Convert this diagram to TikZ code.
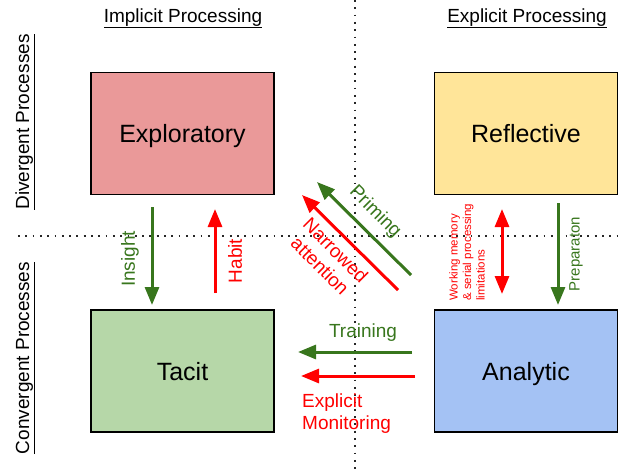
\documentclass[tikz,border=0pt]{standalone}
\usepackage{fontspec}
\setmainfont{Liberation Sans}
\usetikzlibrary{arrows.meta}
\definecolor{exploreFill}{HTML}{EA9999}
\definecolor{reflectFill}{HTML}{FFE599}
\definecolor{tacitFill}{HTML}{B6D7A8}
\definecolor{analyticFill}{HTML}{A4C2F4}
\definecolor{flowGreen}{HTML}{38761D}
\definecolor{flowRed}{HTML}{FF0000}
\begin{document}
\begin{tikzpicture}[x=1pt,y=-1pt,
  stage/.style={draw=black,line width=1.6pt,minimum width=183pt,minimum height=122pt,
    inner sep=0pt,text height=18pt,text depth=0pt,font=\fontsize{25}{30}\selectfont},
  heading/.style={font=\fontsize{19}{22}\selectfont,inner sep=0pt,anchor=base},
  lbl/.style={font=\fontsize{19}{22}\selectfont,inner sep=0pt},
  gridline/.style={line width=1.8pt,dash pattern=on 1.8pt off 5.5pt,black!85},
  head/.tip={Triangle[width=14pt,length=18pt]},
  greenflow/.style={draw=flowGreen,fill=flowGreen,line width=3pt,-head},
  redflow/.style={draw=flowRed,fill=flowRed,line width=3pt,-head},
  redboth/.style={draw=flowRed,fill=flowRed,line width=3pt,head-head}]
\useasboundingbox (0,0) rectangle (618,472);

% quadrant dividers
\coordinate (vtop) at (355,0);
\coordinate (vbot) at (355,472);
\coordinate (hleft) at (18,236);
\coordinate (hright) at (618,236);
\draw[gridline] (vtop) -- (vbot);
\draw[gridline] (hleft) -- (hright);

% column and row headings
\node[heading] (implicit) at (183,22) {\underline{Implicit Processing}};
\node[heading] (explicit) at (527,22) {\underline{Explicit Processing}};
\node[heading,rotate=90] (divergent) at (29,122) {\underline{Divergent Processes}};
\node[heading,rotate=90] (convergent) at (29,358) {\underline{Convergent Processes}};

% the four modes
\node[stage,fill=exploreFill] (exploratory) at (182.5,133.5) {Exploratory};
\node[stage,fill=reflectFill] (reflective) at (526,133.5) {Reflective};
\node[stage,fill=tacitFill] (tacit) at (182.5,371) {Tacit};
\node[stage,fill=analyticFill] (analytic) at (526,371) {Analytic};

% Exploratory <-> Tacit
\coordinate (insA) at (152,207);
\coordinate (insB) at (152,305);
\draw[greenflow] (insA) -- (insB);
\node[lbl,rotate=90,text=flowGreen] (insight) at (130,259) {Insight};
\coordinate (habA) at (215,293);
\coordinate (habB) at (215,209);
\draw[redflow] (habA) -- (habB);
\node[lbl,rotate=90,text=flowRed] (habit) at (235,261) {Habit};

% Reflective <-> Analytic
\coordinate (wmA) at (502,209);
\coordinate (wmB) at (502,294);
\draw[redboth] (wmA) -- (wmB);
\node[rotate=90,anchor=west,align=left,inner sep=0pt,text=flowRed,
  font=\fontsize{11.5}{13.5}\selectfont] (wm) at (467,301)
  {Working memory\\\& serial processing\\limitations};
\coordinate (prepA) at (558,203);
\coordinate (prepB) at (558,305);
\draw[greenflow] (prepA) -- (prepB);
\node[rotate=90,inner sep=0pt,text=flowGreen,font=\fontsize{15}{18}\selectfont]
  (preparation) at (576,254) {Preparaton};

% Analytic -> Exploratory (diagonal)
\coordinate (primA) at (411,275);
\coordinate (primB) at (317,182);
\draw[greenflow] (primA) -- (primB);
\node[lbl,rotate=-45,text=flowGreen] (priming) at (375,212) {Priming};
\coordinate (narA) at (398,290);
\coordinate (narB) at (302,195);
\draw[redflow] (narA) -- (narB);
\node[lbl,rotate=-45,align=center,text=flowRed] (narrowed) at (328,258) {Narrowed\\attention};

% Analytic -> Tacit
\coordinate (trA) at (412,352);
\coordinate (trB) at (298,352);
\draw[greenflow] (trA) -- (trB);
\node[lbl,text=flowGreen] (training) at (363,333) {Training};
\coordinate (monA) at (415,376);
\coordinate (monB) at (301,376);
\draw[redflow] (monA) -- (monB);
\node[lbl,anchor=west,align=left,text=flowRed] (monitoring) at (302,414) {Explicit\\Monitoring};
\end{tikzpicture}
\end{document}
